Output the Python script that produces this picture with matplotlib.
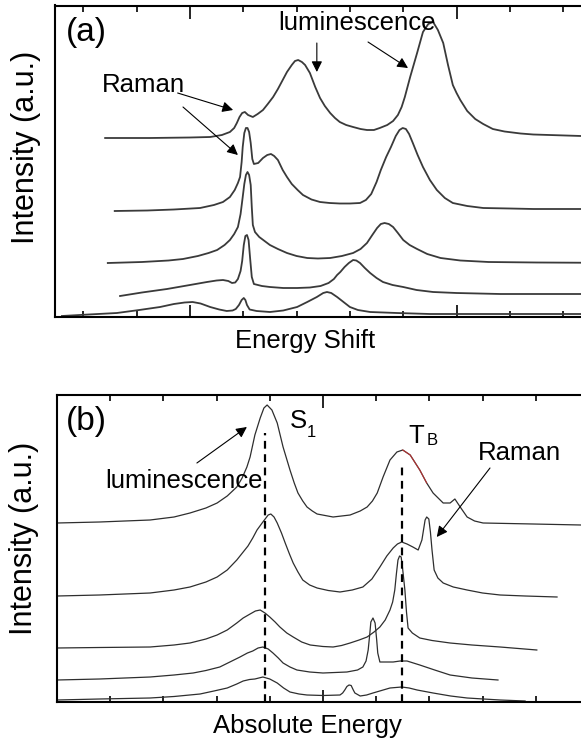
import matplotlib
matplotlib.use("Agg")
import matplotlib.pyplot as plt
from matplotlib.ticker import MultipleLocator

plt.rcParams['font.family'] = ['Liberation Sans', 'DejaVu Sans']

# (a) spectra, (energy shift, intensity) pairs, top trace first
trace_a1 = [(-1.59, 1.79), (-0.75, 1.79), (0.0, 1.795), (0.38, 1.80), (0.60, 1.82), (0.75, 1.85), (0.83, 1.89),
            (0.88, 1.94), (0.93, 2.00), (0.98, 2.04), (1.03, 2.05), (1.09, 2.02), (1.18, 2.00), (1.27, 2.03),
            (1.37, 2.07), (1.46, 2.13), (1.56, 2.20), (1.65, 2.28), (1.74, 2.37), (1.82, 2.45), (1.91, 2.52),
            (1.97, 2.56), (2.03, 2.57), (2.10, 2.55), (2.16, 2.52), (2.25, 2.44), (2.35, 2.30), (2.44, 2.19),
            (2.53, 2.11), (2.63, 2.04), (2.72, 1.99), (2.81, 1.95), (2.93, 1.92), (3.06, 1.90), (3.20, 1.88),
            (3.32, 1.87), (3.45, 1.87), (3.56, 1.89), (3.70, 1.92), (3.81, 1.96), (3.90, 2.02), (3.97, 2.10),
            (4.03, 2.20), (4.13, 2.40), (4.26, 2.64), (4.37, 2.85), (4.47, 2.93), (4.56, 2.95), (4.65, 2.87),
            (4.75, 2.74), (4.84, 2.52), (4.93, 2.32), (5.00, 2.24), (5.07, 2.17), (5.20, 2.06), (5.35, 1.98),
            (5.50, 1.93), (5.68, 1.88), (5.90, 1.855), (6.20, 1.835), (6.44, 1.825), (7.34, 1.81), (8.40, 1.81)]
trace_a2 = [(-1.41, 1.06), (-0.80, 1.065), (-0.30, 1.075), (0.19, 1.09), (0.45, 1.12), (0.62, 1.15), (0.75, 1.20),
            (0.84, 1.27), (0.90, 1.34), (0.94, 1.40), (0.97, 1.55), (0.99, 1.70), (1.02, 1.84), (1.05, 1.89),
            (1.08, 1.89), (1.11, 1.85), (1.14, 1.74), (1.17, 1.58), (1.20, 1.53), (1.28, 1.54), (1.37, 1.59),
            (1.45, 1.62), (1.52, 1.63), (1.58, 1.61), (1.65, 1.57), (1.74, 1.47), (1.82, 1.40), (1.91, 1.33),
            (2.02, 1.27), (2.12, 1.22), (2.28, 1.175), (2.44, 1.15), (2.62, 1.14), (2.81, 1.135), (3.00, 1.135),
            (3.19, 1.14), (3.30, 1.17), (3.40, 1.23), (3.50, 1.35), (3.58, 1.47), (3.68, 1.60), (3.77, 1.70),
            (3.86, 1.81), (3.93, 1.87), (3.99, 1.89), (4.05, 1.88), (4.11, 1.83), (4.18, 1.74), (4.27, 1.62),
            (4.37, 1.50), (4.50, 1.37), (4.63, 1.27), (4.78, 1.19), (4.93, 1.14), (5.20, 1.11), (5.50, 1.09),
            (6.00, 1.085), (6.44, 1.08), (8.40, 1.08)]
trace_a3 = [(-1.54, 0.54), (-0.90, 0.55), (-0.40, 0.565), (-0.13, 0.58), (0.15, 0.61), (0.35, 0.64), (0.51, 0.67),
            (0.65, 0.72), (0.75, 0.77), (0.83, 0.83), (0.90, 0.90), (0.95, 1.03), (0.99, 1.20), (1.02, 1.33),
            (1.05, 1.42), (1.08, 1.45), (1.11, 1.42), (1.14, 1.32), (1.16, 1.10), (1.18, 0.92), (1.22, 0.85),
            (1.30, 0.80), (1.40, 0.76), (1.50, 0.72), (1.65, 0.68), (1.82, 0.64), (2.00, 0.61), (2.20, 0.59),
            (2.40, 0.585), (2.63, 0.59), (2.85, 0.61), (3.06, 0.64), (3.20, 0.68), (3.32, 0.74), (3.42, 0.82),
            (3.51, 0.89), (3.58, 0.93), (3.65, 0.94), (3.73, 0.93), (3.81, 0.90), (3.90, 0.84), (4.00, 0.77),
            (4.12, 0.72), (4.26, 0.68), (4.45, 0.63), (4.70, 0.59), (5.07, 0.565), (5.60, 0.55), (6.50, 0.545),
            (8.40, 0.54)]
trace_a4 = [(-1.31, 0.21), (-0.90, 0.245), (-0.43, 0.28), (0.0, 0.32), (0.32, 0.35), (0.50, 0.365), (0.62, 0.37),
            (0.72, 0.36), (0.79, 0.34), (0.85, 0.345), (0.90, 0.38), (0.95, 0.46), (0.98, 0.56), (1.01, 0.72),
            (1.04, 0.81), (1.07, 0.82), (1.10, 0.77), (1.13, 0.58), (1.16, 0.40), (1.20, 0.33), (1.35, 0.31),
            (1.50, 0.30), (1.75, 0.29), (2.01, 0.29), (2.25, 0.295), (2.45, 0.31), (2.60, 0.34), (2.70, 0.38),
            (2.76, 0.42), (2.82, 0.45), (2.90, 0.50), (2.98, 0.54), (3.06, 0.57), (3.12, 0.565), (3.19, 0.54),
            (3.28, 0.49), (3.38, 0.44), (3.50, 0.39), (3.62, 0.35), (3.80, 0.32), (4.00, 0.30), (4.25, 0.27),
            (4.56, 0.25), (5.00, 0.24), (5.82, 0.23), (8.40, 0.23)]
trace_a5 = [(-2.40, 0.01), (-1.90, 0.025), (-1.37, 0.04), (-0.95, 0.07), (-0.56, 0.10), (-0.30, 0.13), (-0.10, 0.145),
            (0.05, 0.15), (0.20, 0.135), (0.38, 0.10), (0.55, 0.075), (0.69, 0.06), (0.80, 0.065), (0.86, 0.08),
            (0.92, 0.12), (0.97, 0.17), (1.01, 0.19), (1.04, 0.17), (1.07, 0.12), (1.12, 0.075), (1.25, 0.06),
            (1.50, 0.05), (1.75, 0.065), (2.01, 0.10), (2.20, 0.15), (2.38, 0.20), (2.50, 0.24), (2.57, 0.25),
            (2.65, 0.24), (2.76, 0.20), (2.88, 0.15), (3.00, 0.10), (3.15, 0.07), (3.38, 0.05), (3.88, 0.04),
            (4.50, 0.03), (8.40, 0.03)]

# (b) spectra, (absolute energy, intensity) pairs, top trace first
trace_b1 = [(-5.00, 1.79), (-4.20, 1.80), (-3.25, 1.82), (-2.80, 1.85), (-2.50, 1.89), (-2.20, 1.94), (-1.99, 1.99),
            (-1.80, 2.06), (-1.62, 2.15), (-1.52, 2.24), (-1.43, 2.35), (-1.37, 2.45), (-1.28, 2.67), (-1.18, 2.84),
            (-1.11, 2.94), (-1.05, 2.97), (-0.96, 2.92), (-0.86, 2.79), (-0.75, 2.55), (-0.62, 2.32), (-0.54, 2.19),
            (-0.47, 2.09), (-0.38, 2.01), (-0.30, 1.95), (-0.20, 1.91), (-0.11, 1.88), (0.19, 1.85), (0.51, 1.87),
            (0.70, 1.91), (0.83, 1.95), (0.93, 2.01), (1.02, 2.09), (1.13, 2.25), (1.26, 2.42), (1.39, 2.50),
            (1.50, 2.52), (1.64, 2.47), (1.82, 2.32), (1.95, 2.19), (2.07, 2.09), (2.26, 1.99), (2.39, 1.99),
            (2.48, 2.03), (2.58, 1.95), (2.71, 1.85), (2.85, 1.81), (3.01, 1.79), (3.95, 1.78), (4.85, 1.77),
            (6.00, 1.77)]
trace_b2 = [(-5.00, 1.06), (-4.20, 1.07), (-3.25, 1.09), (-2.80, 1.12), (-2.50, 1.15), (-2.20, 1.20), (-1.99, 1.25),
            (-1.80, 1.32), (-1.62, 1.42), (-1.50, 1.50), (-1.41, 1.56), (-1.32, 1.64), (-1.24, 1.72), (-1.13, 1.80),
            (-1.03, 1.87), (-0.98, 1.88), (-0.92, 1.85), (-0.86, 1.79), (-0.78, 1.69), (-0.71, 1.59), (-0.63, 1.48),
            (-0.56, 1.39), (-0.47, 1.30), (-0.38, 1.22), (-0.25, 1.17), (-0.11, 1.14), (0.10, 1.115), (0.32, 1.10),
            (0.55, 1.12), (0.75, 1.15), (0.92, 1.23), (1.07, 1.35), (1.20, 1.46), (1.32, 1.54), (1.40, 1.58),
            (1.48, 1.60), (1.58, 1.58), (1.69, 1.55), (1.79, 1.52), (1.86, 1.62), (1.92, 1.82), (1.95, 1.85),
            (1.99, 1.83), (2.02, 1.70), (2.05, 1.52), (2.09, 1.32), (2.16, 1.24), (2.26, 1.19), (2.45, 1.15),
            (2.71, 1.12), (3.00, 1.09), (3.33, 1.07), (3.80, 1.06), (4.40, 1.05)]
trace_b3 = [(-5.00, 0.54), (-4.20, 0.545), (-3.25, 0.55), (-2.80, 0.57), (-2.50, 0.59), (-2.20, 0.63), (-1.99, 0.67),
            (-1.80, 0.72), (-1.62, 0.79), (-1.50, 0.84), (-1.37, 0.88), (-1.27, 0.91), (-1.18, 0.92), (-1.09, 0.89),
            (-1.00, 0.85), (-0.90, 0.80), (-0.81, 0.75), (-0.68, 0.69), (-0.56, 0.65), (-0.40, 0.60), (-0.24, 0.57),
            (0.0, 0.555), (0.19, 0.55), (0.35, 0.565), (0.51, 0.59), (0.68, 0.62), (0.83, 0.65), (0.96, 0.70),
            (1.07, 0.75), (1.17, 0.82), (1.26, 0.92), (1.31, 1.00), (1.35, 1.12), (1.38, 1.28), (1.41, 1.42),
            (1.44, 1.46), (1.47, 1.45), (1.50, 1.32), (1.54, 1.12), (1.57, 0.90), (1.60, 0.74), (1.68, 0.69),
            (1.82, 0.64), (2.05, 0.615), (2.39, 0.59), (2.80, 0.57), (3.33, 0.55), (4.02, 0.52)]
trace_b4 = [(-5.00, 0.22), (-4.20, 0.23), (-3.25, 0.25), (-2.80, 0.27), (-2.44, 0.29), (-2.20, 0.315), (-1.94, 0.35),
            (-1.75, 0.40), (-1.56, 0.45), (-1.42, 0.49), (-1.32, 0.51), (-1.22, 0.54), (-1.13, 0.55), (-1.03, 0.53),
            (-0.94, 0.49), (-0.84, 0.44), (-0.75, 0.39), (-0.62, 0.35), (-0.49, 0.32), (-0.25, 0.30), (0.0, 0.29),
            (0.45, 0.30), (0.65, 0.32), (0.75, 0.35), (0.81, 0.41), (0.85, 0.52), (0.88, 0.68), (0.90, 0.80),
            (0.94, 0.84), (0.98, 0.79), (1.01, 0.62), (1.03, 0.49), (1.07, 0.40), (1.20, 0.40), (1.32, 0.40),
            (1.45, 0.41), (1.58, 0.41), (1.70, 0.39), (1.82, 0.37), (2.10, 0.32), (2.39, 0.27), (2.80, 0.24),
            (3.29, 0.22)]
trace_b5 = [(-5.00, 0.02), (-4.20, 0.03), (-3.25, 0.04), (-2.80, 0.055), (-2.31, 0.08), (-2.05, 0.11), (-1.80, 0.14),
            (-1.62, 0.18), (-1.50, 0.21), (-1.38, 0.225), (-1.28, 0.23), (-1.13, 0.25), (-1.00, 0.23), (-0.86, 0.19),
            (-0.74, 0.14), (-0.62, 0.10), (-0.45, 0.08), (-0.30, 0.07), (0.0, 0.065), (0.32, 0.07), (0.37, 0.09),
            (0.41, 0.12), (0.45, 0.155), (0.49, 0.17), (0.53, 0.165), (0.57, 0.12), (0.60, 0.09), (0.70, 0.06),
            (0.82, 0.07), (0.94, 0.09), (1.10, 0.115), (1.26, 0.14), (1.48, 0.15), (1.62, 0.14), (1.77, 0.12),
            (2.07, 0.09), (2.40, 0.06), (2.71, 0.04), (3.33, 0.02), (3.80, 0.01)]

s1_energy = -1.09
s1_top = 2.69
tb_energy = 1.48
tb_top = 2.35


def split(trace):
    xs, ys = zip(*trace)
    return list(xs), list(ys)


def style_axes(ax, xlim, ylim):
    ax.set_xlim(*xlim)
    ax.set_ylim(*ylim)
    ax.xaxis.set_major_locator(MultipleLocator(5))
    ax.xaxis.set_minor_locator(MultipleLocator(1))
    ax.tick_params(axis='x', which='both', direction='in', top=True, bottom=True,
                   labelbottom=False, width=1.2)
    ax.tick_params(axis='x', which='major', length=9)
    ax.tick_params(axis='x', which='minor', length=4.5)
    ax.tick_params(axis='y', which='both', left=False, labelleft=False)
    for sp in ax.spines.values():
        sp.set_linewidth(1.5)


def arrow(ax, start, end):
    ax.annotate('', xy=end, xytext=start,
                arrowprops=dict(arrowstyle='-|>', color='black', lw=0.8,
                                mutation_scale=16, shrinkA=0, shrinkB=0))


def panel_a(fig):
    ax = fig.add_axes([55/581, 1-317/742, 585/581, 311.5/742])
    style_axes(ax, (-2.53, 8.44), (0, 3.115))
    for trace in [trace_a1, trace_a2, trace_a3, trace_a4, trace_a5]:
        x, y = split(trace)
        ax.plot(x, y, color='#3a3a3a', lw=1.3)
    ax.text(-2.33, 2.84, '(a)', fontsize=24, va='center', ha='left')
    ax.text(1.65, 2.87, 'luminescence', fontsize=18.5, va='baseline')
    ax.text(-1.65, 2.25, 'Raman', fontsize=18.5, va='baseline')
    arrow(ax, (-0.23, 2.24), (0.81, 2.07))
    arrow(ax, (-0.13, 2.10), (0.90, 1.62))
    arrow(ax, (2.38, 2.74), (2.38, 2.45))
    arrow(ax, (3.34, 2.75), (4.09, 2.49))
    ax.set_ylabel('Intensity (a.u.)', fontsize=22)
    ax.yaxis.set_label_coords(-0.024, 0.546)
    ax.set_xlabel('Energy Shift', fontsize=18.5)
    ax.xaxis.set_label_coords(0.427, -0.039)
    return ax


def panel_b(fig):
    ax = fig.add_axes([57/581, 1-702/742, 583/581, 307/742])
    style_axes(ax, (-5.0, 5.96), (0, 3.07))
    for trace in [trace_b1, trace_b2, trace_b3, trace_b4, trace_b5]:
        x, y = split(trace)
        ax.plot(x, y, color='#2e2e2e', lw=0.9)
    # faint red retouch on the T_B shoulder of the top trace
    shoulder = [(x, y) for x, y in trace_b1 if 1.5 <= x <= 1.95]
    sx, sy = split(shoulder)
    ax.plot(sx, sy, color='#d23030', lw=0.8, alpha=0.8)
    ax.plot([s1_energy, s1_energy], [0, s1_top], color='black', lw=1.6, ls=(0, (3.5, 2.5)))
    ax.plot([tb_energy, tb_energy], [0, tb_top], color='black', lw=1.6, ls=(0, (3.5, 2.5)))
    ax.text(-4.83, 2.80, '(b)', fontsize=24, va='center', ha='left')
    ax.text(-0.62, 2.74, 'S', fontsize=18.5, va='baseline')
    ax.text(-0.30, 2.65, '1', fontsize=12, va='baseline')
    ax.text(1.60, 2.59, 'T', fontsize=18.5, va='baseline')
    ax.text(1.95, 2.57, 'B', fontsize=12, va='baseline')
    ax.text(-4.10, 2.14, 'luminescence', fontsize=18.5, va='baseline')
    ax.text(2.91, 2.42, 'Raman', fontsize=18.5, va='baseline')
    arrow(ax, (-2.37, 2.39), (-1.43, 2.75))
    arrow(ax, (3.14, 2.34), (2.14, 1.65))
    ax.set_ylabel('Intensity (a.u.)', fontsize=22)
    ax.yaxis.set_label_coords(-0.031, 0.534)
    ax.set_xlabel('Absolute Energy', fontsize=18.5)
    ax.xaxis.set_label_coords(0.429, -0.039)
    return ax


if __name__ == "__main__":
    fig = plt.figure(figsize=(5.81, 7.42), dpi=100)
    panel_a(fig)
    panel_b(fig)
    fig.savefig("out.png", dpi=100)
    plt.close(fig)
